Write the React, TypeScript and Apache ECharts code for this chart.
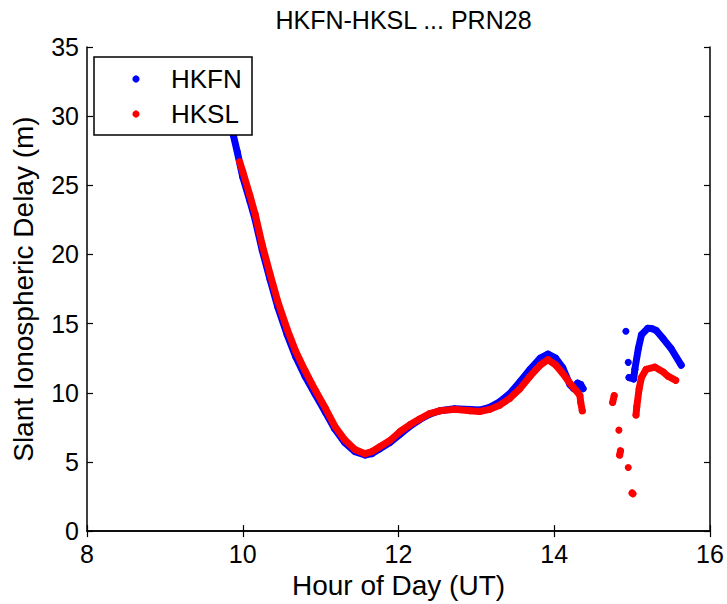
import React, { useEffect, useRef } from 'react';
import * as echarts from 'echarts';

// Hour of day (UT) and slant ionospheric delay (m); null marks a break in the track
const hkfnHours = [
  9.84, 9.88, 9.93, 10.0, 10.09, 10.16, 10.25, 10.35, 10.45, 10.57, 10.68, 10.8, 10.93,
  11.06, 11.18, 11.31, 11.44, 11.57, 11.66, 11.76, 11.89, 12.02, 12.15, 12.27, 12.4,
  12.53, 12.72, 12.92, 13.04, 13.17, 13.3, 13.43, 13.56, 13.69, 13.82, 13.92, 14.02,
  14.11, 14.2, 14.25, 14.3, 14.34, 14.37,
  14.6,
  14.92,
  14.935,
  14.95,
  14.955,
  14.96, 15.02, 15.035, 15.08, 15.12, 15.2, 15.25, 15.31, 15.4, 15.5, 15.63,
];
const hkfnDelay: (number | null)[] = [
  30.2, 28.6, 27.4, 25.6, 23.9, 22.5, 20.3, 18.2, 16.2, 14.2, 12.6, 11.2, 9.9,
  8.6, 7.4, 6.4, 5.75, 5.5, 5.6, 5.95, 6.4, 7.0, 7.6, 8.05, 8.45,
  8.7, 8.85, 8.8, 8.75, 8.95, 9.35, 9.95, 10.8, 11.7, 12.5, 12.8, 12.5,
  11.8, 10.6, 10.3, 10.7, 10.6, 10.3,
  null,
  14.45,
  null,
  12.2,
  null,
  11.1, 11.0, 11.7, 13.2, 14.2, 14.66, 14.65, 14.5, 13.9, 13.2, 12.0,
];

const hkslHours = [
  9.96, 10.0, 10.09, 10.16, 10.25, 10.35, 10.45, 10.57, 10.68, 10.8, 10.93, 11.06,
  11.18, 11.31, 11.44, 11.57, 11.66, 11.76, 11.89, 12.02, 12.15, 12.27, 12.4, 12.53,
  12.72, 12.92, 13.04, 13.17, 13.3, 13.43, 13.56, 13.69, 13.82, 13.92, 14.02, 14.11,
  14.2, 14.29, 14.33, 14.34, 14.36,
  14.5,
  14.75, 14.77,
  14.8,
  14.83,
  14.835,
  14.84, 14.85,
  14.9,
  14.95,
  14.97,
  15.0, 15.01,
  15.03,
  15.05, 15.06, 15.09, 15.12, 15.18, 15.29, 15.4, 15.46, 15.56,
];
const hkslDelay: (number | null)[] = [
  26.7, 26.0, 24.3, 22.9, 20.7, 18.6, 16.6, 14.6, 13.0, 11.6, 10.2, 8.9,
  7.6, 6.6, 5.9, 5.6, 5.75, 6.1, 6.55, 7.2, 7.7, 8.1, 8.5, 8.7,
  8.8, 8.7, 8.65, 8.8, 9.1, 9.6, 10.3, 11.2, 12.0, 12.4, 12.0, 11.4,
  10.7, 10.1, 9.8, 9.3, 8.7,
  null,
  9.3, 9.8,
  null,
  7.3,
  null,
  5.5, 5.8,
  null,
  4.6,
  null,
  2.75, 2.7,
  null,
  8.4, 9.0, 10.3, 11.1, 11.7, 11.86, 11.5, 11.2, 10.9,
];

const seriesNames = ['HKFN', 'HKSL'];
const seriesColors = ['#0000ff', '#ff0000'];
const xTicks = { min: 8, max: 16, interval: 2 };
const yTicks = { min: 0, max: 35, interval: 5 };

const FONT = '"Liberation Sans", Arial, Helvetica, sans-serif';

function toPairs(hours: number[], vals: (number | null)[]) {
  return hours.map((h, i) => (vals[i] == null ? [h, '-'] : [h, vals[i]]));
}

export default function App() {
  const ref = useRef<HTMLDivElement>(null);
  useEffect(() => {
    if (!ref.current) return;
    const chart = echarts.init(ref.current, null, { renderer: 'svg' });
    const axisLine = { show: true, lineStyle: { color: '#000', width: 1.5 } };
    const tick = { show: true, inside: true, length: 6, lineStyle: { color: '#000', width: 1.2 } };
    const label = { color: '#000', fontSize: 25, fontFamily: FONT };
    const legendChildren: any[] = [
      {
        type: 'rect',
        z: 100,
        zlevel: 0,
        shape: { x: 94, y: 57, width: 158, height: 78 },
        style: { fill: '#fff', stroke: '#000', lineWidth: 1.5 },
      },
    ];
    seriesNames.forEach((n, i) => {
      const cy = 79 + i * 35;
      legendChildren.push({
        type: 'circle',
        z: 101,
        shape: { cx: 136, cy, r: 3.6 },
        style: { fill: seriesColors[i] },
      });
      legendChildren.push({
        type: 'text',
        z: 101,
        x: 171,
        y: cy,
        style: {
          text: n,
          fill: '#000',
          fontSize: 26,
          fontFamily: FONT,
          verticalAlign: 'middle',
          align: 'left',
        },
      });
    });
    chart.setOption({
      animation: false,
      backgroundColor: '#fff',
      title: {
        text: 'HKFN-HKSL ... PRN28',
        left: 398.5,
        textAlign: 'center',
        top: 2,
        textStyle: { color: '#000', fontSize: 25, fontWeight: 'normal', fontFamily: FONT },
      },
      grid: { left: 87, right: 17, top: 47, bottom: 71, containLabel: false },
      graphic: { elements: legendChildren },
      xAxis: [
        {
          type: 'value',
          ...xTicks,
          position: 'bottom',
          name: 'Hour of Day (UT)',
          nameLocation: 'middle',
          nameGap: 24,
          nameTextStyle: { color: '#000', fontSize: 28, fontFamily: FONT },
          axisLine,
          axisTick: tick,
          axisLabel: { ...label, margin: 10 },
          splitLine: { show: false },
        },
        {
          type: 'value',
          ...xTicks,
          position: 'top',
          axisLine,
          axisTick: tick,
          axisLabel: { show: false },
          splitLine: { show: false },
        },
      ],
      yAxis: [
        {
          type: 'value',
          ...yTicks,
          position: 'left',
          name: 'Slant Ionospheric Delay (m)',
          nameLocation: 'middle',
          nameGap: 50,
          nameTextStyle: { color: '#000', fontSize: 28, fontFamily: FONT },
          axisLine,
          axisTick: tick,
          axisLabel: { ...label, margin: 8 },
          splitLine: { show: false },
        },
        {
          type: 'value',
          ...yTicks,
          position: 'right',
          axisLine,
          axisTick: tick,
          axisLabel: { show: false },
          splitLine: { show: false },
        },
      ],
      series: [0, 1].map((i) => ({
        name: seriesNames[i],
        type: 'line',
        xAxisIndex: 0,
        yAxisIndex: 0,
        data: i === 0 ? toPairs(hkfnHours, hkfnDelay) : toPairs(hkslHours, hkslDelay),
        symbol: 'circle',
        symbolSize: 7,
        showSymbol: true,
        showAllSymbol: true,
        connectNulls: false,
        itemStyle: { color: seriesColors[i], borderWidth: 0 },
        lineStyle: { color: seriesColors[i], width: 7, cap: 'round', join: 'round' },
        z: 2 + i,
      })),
    });
    return () => chart.dispose();
  }, []);
  return <div ref={ref} style={{ width: 727, height: 604, position: 'absolute', left: 0, top: 0 }} />;
}
